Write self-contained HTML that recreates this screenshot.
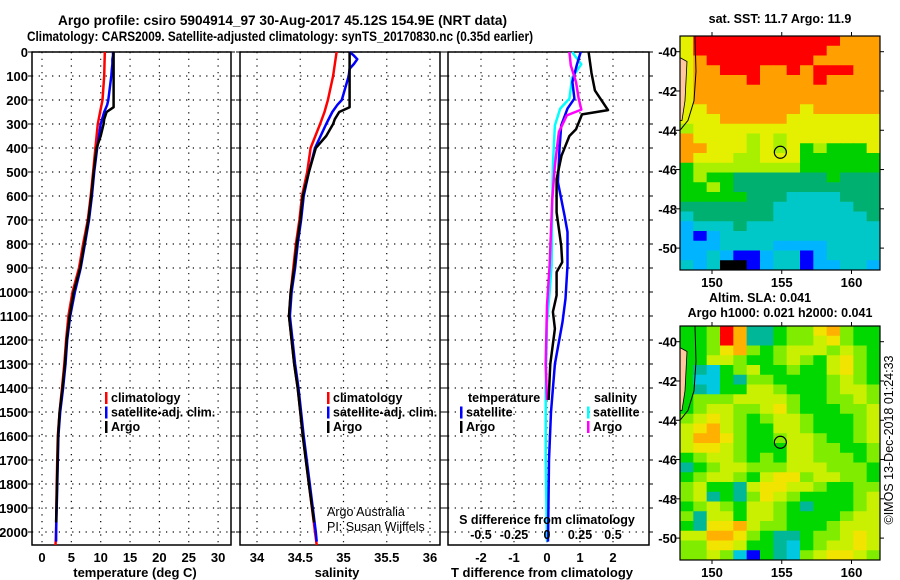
<!DOCTYPE html>
<html><head><meta charset="utf-8"><style>
html,body{margin:0;padding:0;background:#fff;}
svg{display:block;font-family:"Liberation Sans",sans-serif;}
.b{font-weight:bold;}
</style></head><body>
<svg id="fig" width="900" height="580" viewBox="0 0 900 580" xmlns="http://www.w3.org/2000/svg">
<text x="58" y="25" textLength="449" lengthAdjust="spacingAndGlyphs" class="b" font-size="14">Argo profile: csiro 5904914_97 30-Aug-2017 45.12S 154.9E (NRT data)</text>
<text x="27" y="41" textLength="506" lengthAdjust="spacingAndGlyphs" class="b" font-size="14">Climatology: CARS2009. Satellite-adjusted climatology: synTS_20170830.nc (0.35d earlier)</text>
<g id="plots"></g>
</svg>
<script>
// ---------- data ----------
const depthTicks=[0,100,200,300,400,500,600,700,800,900,1000,1100,1200,1300,1400,1500,1600,1700,1800,1900,2000];
const tempTicks=[0,5,10,15,20,25,30];
const salTicks=[34,34.5,35,35.5,36];
const tdiffTicks=[-2,-1,0,1,2];
const sdiffTicks=[-0.5,-0.25,0,0.25,0.5];

const climDepth=[0,100,200,250,300,400,500,600,700,800,900,1000,1100,1200,1300,1400,1500,1600,1800,2000,2054];
const climTemp=[10.7,10.6,10.3,9.9,9.5,9.1,8.7,8.3,7.8,7.0,6.3,5.2,4.5,4.1,3.8,3.4,3.0,2.7,2.5,2.4,2.3];
const climSal=[34.92,34.88,34.82,34.78,34.73,34.62,34.58,34.52,34.49,34.45,34.42,34.39,34.37,34.40,34.43,34.47,34.50,34.53,34.60,34.67,34.69];

const satDepth=[0,15,30,50,70,100,200,220,250,300,400,500,600,700,800,900,1000,1100,1200,1300,1400,1500,1600,1800,2000,2040];
const satTemp=[12.1,12.1,12.0,12.0,11.9,11.8,11.3,11.1,10.6,10.0,9.4,8.9,8.5,8.0,7.3,6.6,5.6,4.8,4.3,4.0,3.6,3.1,2.8,2.6,2.4,2.4];
const satSal=[35.07,35.12,35.16,35.12,35.07,35.06,34.98,34.93,34.87,34.80,34.67,34.60,34.54,34.51,34.47,34.44,34.40,34.38,34.41,34.44,34.48,34.51,34.54,34.61,34.68,34.69];

const argoDepth=[0,230,250,280,300,350,400,500,600,700,800,900,1000,1100,1200,1300,1400,1500,1600,1800,1960];
const argoTemp=[12.2,12.2,11.0,10.6,10.5,10.0,9.3,8.8,8.4,7.9,7.2,6.5,5.4,4.7,4.2,3.9,3.5,3.0,2.75,2.55,2.4];
const argoSal=[35.07,35.07,34.95,34.90,34.88,34.80,34.68,34.60,34.53,34.50,34.46,34.43,34.39,34.37,34.40,34.43,34.47,34.50,34.53,34.60,34.66];

const dDepthBlk=[0,88,160,242,260,322,350,432,530,668,807,876,917,1014,1083,1153,1300,1450];
const dTArgo=[1.26,1.35,1.45,1.85,1.06,0.88,0.68,0.44,0.29,0.29,0.43,0.46,0.29,0.29,0.18,0.24,0.1,0.05];
const dDepthBlu=[0,56,125,194,236,306,403,542,681,750,889,1028,1125,1300,1500,1700,2040];
const dTSat=[1.02,0.9,0.77,0.83,0.62,0.43,0.38,0.33,0.53,0.62,0.62,0.56,0.47,0.24,0.12,0.06,0.03];
const dDepthCyn=[0,51,107,194,236,306,472,611,889,1000,1125,1400,1700,2040];
const dSSat=[0.19,0.26,0.19,0.17,0.1,0.06,0.045,0.04,0.035,0.02,0.0,-0.01,-0.01,0.0];
const dDepthMag=[0,56,125,194,240,264,333,472,611,889,1056,1300,1450];
const dSArgo=[0.17,0.18,0.22,0.24,0.26,0.15,0.09,0.06,0.04,0.02,0.0,-0.01,0.0];

const lonTicks=[150,155,160];
const latTicks=[-40,-42,-44,-46,-48,-50];
const sstRows=["799999999999888","799999999998888","789999999988888","788999889899988","788889888898888","788888888888888","788888888888888","778888888788888","777888887777777","677777777777777","877776767777777","887776767565557","877766777555555","566666666555555","565544444445444","556544444444444","555554443333444","444444433333344","344444433333334","233343333333333","212333333333333","222333322223333","223211233123333","323001233122332"];
const slaRows=["445983345578544","445983345567544","445785456665654","446654456546754","432456445446754","422435544445654","432446654445665","455566665445565","456655675444556","567654566544456","678654466544456","688754456654456","677654446655445","456654546655545","345665556665554","456654677566554","564436776654455","563435765444456","456546654344456","536646654444566","437786554445666","668875433455676","557764432456676","556521432567765"];
const sstColors=["#000000","#0000ff","#00b4ff","#00c8c8","#00b070","#00d000","#a8f000","#e4f000","#ffa000","#ff0000"];
const slaColors=["#000000","#0000ff","#00c8e0","#00b898","#00d800","#80ec00","#c8f000","#f0e400","#ffb000","#ff0000"];

// ---------- helpers ----------
const NS="http://www.w3.org/2000/svg";
const root=document.getElementById('plots');
function mk(tag,attrs,parent){const e=document.createElementNS(NS,tag);for(const k in attrs)e.setAttribute(k,attrs[k]);(parent||root).appendChild(e);return e;}
function txt(s,x,y,anchor,size,bold,parent){const t=mk('text',{x:x,y:y,'text-anchor':anchor,'font-size':size,'font-weight':bold?'bold':'normal'},parent);t.textContent=s;return t;}

const TOP=52,BOT=545;
const yD=d=>TOP+d*0.24;

depthTicks.forEach(d=>{
  const t=txt(String(d),28,yD(d)+5,'end',13,true);
  
  
});

function panel(name,x0,x1,xTicks,xf,tickLbls){
  const g=mk('g',{});
  
  
  depthTicks.forEach(d=>{
    const l=mk('line',{x1:x0,x2:x1,y1:yD(d),y2:yD(d),stroke:'#000','stroke-width':1.2,'stroke-dasharray':'1.2,5.5'},g);
    
    
    mk('line',{x1:x0-4,x2:x0,y1:yD(d),y2:yD(d),stroke:'#000'},g);
    mk('line',{x1:x1,x2:x1+4,y1:yD(d),y2:yD(d),stroke:'#000'},g);
  });
  xTicks.forEach((v,i)=>{
    const l=mk('line',{x1:xf(v),x2:xf(v),y1:TOP,y2:BOT,stroke:'#000','stroke-width':1.2,'stroke-dasharray':'1.2,5.5'},g);
    
    
    if(tickLbls){
      const t=txt(tickLbls[i],xf(v),562,'middle',13,true,g);
      
      
    }
  });
  const r=mk('rect',{x:x0,y:TOP,width:x1-x0,height:BOT-TOP,fill:'none',stroke:'#000','stroke-width':1.5},g);
  
  
  return g;
}
function line(g,name,xs,ds,xf,color,w){
  const p=mk('polyline',{points:xs.map((v,i)=>xf(v).toFixed(1)+','+yD(ds[i]).toFixed(1)).join(' '),fill:'none',stroke:color,'stroke-width':w||2.5,'stroke-linejoin':'round'},g);
  
  
}
function legend(g,items,x,y){
  items.forEach((it,i)=>{
    const yy=y+i*14.5;
    const b=mk('rect',{x:x,y:yy-10,width:2.5,height:12,fill:it[1]},g);
    
    
    const t=txt(it[0],x+6,yy,'start',12.5,true,g);
    
    
  });
}

const xT=v=>42+v*5.87;
const g1=panel('temperature-panel',32,231,tempTicks,xT,tempTicks.map(String));
line(g1,'temperature-climatology-line',climTemp,climDepth,xT,'#ff0000');
line(g1,'temperature-satellite-line',satTemp,satDepth,xT,'#0000ff');
line(g1,'temperature-argo-line',argoTemp,argoDepth,xT,'#000000');
legend(g1,[['climatology','#ff0000'],['satellite-adj. clim.','#0000ff'],['Argo','#000000']],105,402);
let t1=txt('temperature (deg C)',135,577,'middle',13,true,g1);



const xS=v=>257+(v-34)*86.5;
const g2=panel('salinity-panel',240,440,salTicks,xS,['34','34.5','35','35.5','36']);
line(g2,'salinity-climatology-line',climSal,climDepth,xS,'#ff0000');
line(g2,'salinity-satellite-line',satSal,satDepth,xS,'#0000ff');
line(g2,'salinity-argo-line',argoSal,argoDepth,xS,'#000000');
legend(g2,[['climatology','#ff0000'],['satellite-adj. clim.','#0000ff'],['Argo','#000000']],327,402);
let t2=txt('salinity',337,577,'middle',13,true,g2);


let c1=txt('Argo Australia',327,516,'start',12.5,false,g2);


let c2=txt('PI: Susan Wijffels',327,531,'start',12.5,false,g2);



const xDT=v=>547+v*33;
const xDS=v=>547+v*132;
const g3=panel('difference-panel',448,649,tdiffTicks,xDT,['-2','-1','0','1','2']);
line(g3,'salinity-diff-satellite-line',dSSat,dDepthCyn,xDS,'#00ffff');
line(g3,'temperature-diff-satellite-line',dTSat,dDepthBlu,xDT,'#0000ff');
line(g3,'salinity-diff-argo-line',dSArgo,dDepthMag,xDS,'#ff00ff');
line(g3,'temperature-diff-argo-line',dTArgo,dDepthBlk,xDT,'#000000');
let lt=txt('temperature',468,402,'start',12.5,true,g3);


legend(g3,[['satellite','#0000ff'],['Argo','#000000']],460,416.5);
let ls=txt('salinity',594,402,'start',12.5,true,g3);


legend(g3,[['satellite','#00ffff'],['Argo','#ff00ff']],587,416.5);
let sd=txt('S difference from climatology',547,524,'middle',12.5,true,g3);


sdiffTicks.forEach(v=>{
  const t=txt(String(v),xDS(v),539,'middle',12.5,true,g3);
  
  
});
let t3=txt('T difference from climatology',542,577,'middle',13,true,g3);



function map(name,rows,colors,oy,titles){
  const g=mk('g',{});
  
  
  const X0=680,X1=880,Y0=oy+36,Y1=oy+270;
  const lonX=lon=>712+(lon-150)*13.95;
  const latY=lat=>oy+51.7+(-40-lat)*19.64;
  const nC=rows[0].length,nR=rows.length;
  const cw=(X1-X0)/nC,ch=(Y1-Y0)/nR;
  rows.forEach((row,r)=>{
    for(let c=0;c<nC;c++){
      const cell=mk('rect',{x:(X0+c*cw).toFixed(2),y:(Y0+r*ch).toFixed(2),width:(cw+0.5).toFixed(2),height:(ch+0.5).toFixed(2),fill:colors[+row[c]]},g);
      
      
    }
  });
  const land=mk('polygon',{points:`${X0},${latY(-40.3)} ${X0+7},${latY(-40.5)} ${X0+6},${latY(-41.5)} ${X0+5},${latY(-42.5)} ${X0+2},${latY(-43.5)} ${X0},${latY(-43.5)}`,fill:'#ffc8a0',stroke:'#000','stroke-width':0.8},g);
  
  
  const coast=mk('polyline',{points:`${X0+15},${Y0} ${X0+16},${latY(-41)} ${X0+14},${latY(-42.5)} ${X0+8},${latY(-43.5)} ${X0},${latY(-44)}`,fill:'none',stroke:'#000','stroke-width':1},g);
  
  
  const fr=mk('rect',{x:X0,y:Y0,width:X1-X0,height:Y1-Y0,fill:'none',stroke:'#000','stroke-width':1.2},g);
  
  
  const ac=mk('circle',{cx:lonX(154.9),cy:latY(-45.12),r:6,fill:'none',stroke:'#000','stroke-width':1.2},g);
  
  
  lonTicks.forEach(l=>{
    mk('line',{x1:lonX(l),x2:lonX(l),y1:Y0-4,y2:Y0,stroke:'#000'},g);
    mk('line',{x1:lonX(l),x2:lonX(l),y1:Y1,y2:Y1+4,stroke:'#000'},g);
    const t=txt(String(l),lonX(l),Y1+17,'middle',13,true,g);
    
    
  });
  latTicks.forEach(l=>{
    mk('line',{x1:X0-4,x2:X0,y1:latY(l),y2:latY(l),stroke:'#000'},g);
    mk('line',{x1:X1,x2:X1+4,y1:latY(l),y2:latY(l),stroke:'#000'},g);
    const t=txt(String(l),X0-3,latY(l)+5,'end',13,true,g);
    
    
  });
  titles.forEach(tt=>{
    const t=txt(tt[0],tt[1],tt[2],'middle',12.5,true,g);
    
    
  });
}
map('sst-map',sstRows,sstColors,0,[['sat. SST: 11.7 Argo: 11.9',780,23]]);
map('sla-map',slaRows,slaColors,290,[['Altim. SLA: 0.041',760,302],['Argo h1000: 0.021 h2000: 0.041',780,317]]);
const cp=txt('©IMOS 13-Dec-2018 01:24:33',0,0,'middle',12.5,false);
cp.setAttribute('transform','translate(893,440) rotate(-90)');


</script>
</body></html>
